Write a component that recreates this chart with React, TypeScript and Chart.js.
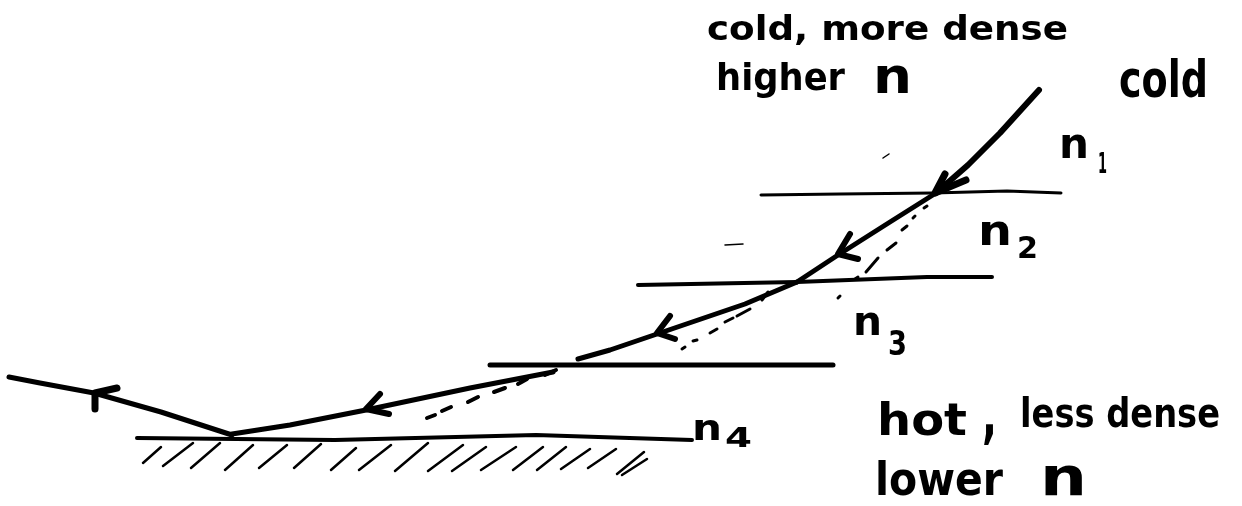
import React, { useEffect, useRef } from "react";
import { Chart, registerables } from "chart.js";

Chart.register(...registerables);

type P = [number, number];

// Thick refracted ray
const rayIncoming: P[] = [[1039, 90], [1000, 133], [968, 165], [936, 193]];
const rayLayer2: P[] = [[936, 193], [890, 222], [838, 255], [797, 282]];
const rayLayer3: P[] = [[797, 282], [745, 304], [657, 334], [610, 350], [578, 359]];
const rayLayer4: P[] = [[553, 372], [470, 388], [366, 410], [290, 425], [232, 434]];
const rayReflected: P[] = [[232, 435], [161, 412], [94, 393], [40, 383], [9, 377]];

// Boundaries between layers
const boundary1: P[] = [[761, 195], [840, 194], [933, 193], [1007, 191], [1061, 193]];
const boundary2: P[] = [[638, 285], [797, 282], [927, 277], [992, 277]];
const boundary3: P[] = [[490, 365], [660, 365], [833, 365]];
const boundary4: P[] = [[137, 438], [335, 440], [536, 435], [692, 440]];

// Arrow heads: barb, tip, barb
const arrow1: P[] = [[945, 174], [935, 193], [966, 180]];
const arrow2: P[] = [[850, 234], [838, 254], [858, 259]];
const arrow3: P[] = [[670, 316], [657, 333], [675, 339]];
const arrow4: P[] = [[380, 394], [366, 409], [389, 414]];
const arrow5: P[] = [[117, 388], [95, 393], [95, 409]];

// Dashed straight-on continuation: each pair is one dash
const dashesA: P[][] = [
  [[927, 206], [924, 208]], [[915, 216], [913, 218]], [[907, 226], [902, 230]],
  [[896, 243], [887, 250]], [[878, 258], [866, 272]], [[858, 277], [855, 279]],
  [[840, 296], [838, 298]],
];
const dashesB: P[][] = [
  [[768, 292], [762, 300]], [[750, 309], [737, 316]], [[733, 318], [725, 322]],
  [[717, 329], [710, 333]], [[697, 340], [693, 341]], [[685, 347], [682, 349]],
];
const dashesC: P[][] = [
  [[556, 370], [545, 375]], [[527, 379], [518, 384]], [[505, 388], [494, 392]],
  [[478, 397], [468, 402]], [[451, 407], [442, 411]], [[435, 415], [427, 418]],
];

// Ground hatching
const hatchBottomX = [143, 163, 191, 225, 259, 294, 331, 359, 395, 428, 452, 481, 513, 537, 561, 588, 617, 622];
const hatchTopX = [161, 193, 220, 253, 287, 321, 356, 391, 428, 463, 486, 516, 543, 566, 590, 616, 644, 647];
const hatchBottomY = [463, 466, 468, 470, 468, 468, 470, 470, 471, 471, 471, 470, 470, 470, 469, 468, 474, 475];
const hatchTopY = [447, 443, 443, 445, 445, 444, 448, 445, 443, 445, 447, 447, 447, 447, 449, 449, 452, 459];

// Stray specks on the scan
const speck1: P[] = [[725, 245], [743, 244]];
const speck2: P[] = [[883, 158], [889, 154]];

// Hand-lettered labels: text, left, baseline, width, font size
const labelTexts = ["cold, more dense", "higher", "n", "cold", "n", "1", "n", "2", "n", "3", "n", "4", "hot", ",", "less dense", "lower", "n"];
const labelX = [707, 716, 873, 1119, 1059, 1098, 978, 1017, 853, 888, 692, 725, 877, 982, 1020, 875, 1040];
const labelY = [40, 90, 93, 97, 158, 173, 245, 258, 335, 355, 440, 447, 435, 436, 427, 495, 495];
const labelW = [361, 129, 39, 89, 30, 9, 34, 21, 29, 19, 30, 27, 90, 15, 200, 128, 47];
const labelSize = [33, 38, 50, 52, 42, 29, 42, 31, 40, 34, 36, 26, 44, 62, 40, 46, 54];

const toXY = (pts: P[]) => pts.map(([x, y]) => ({ x, y }));
const joinDashes = (dashes: P[][]) =>
  dashes.flatMap((d) => [...toXY(d), { x: d[1][0], y: null as unknown as number }]);
const hatchPoints = hatchBottomX.flatMap((bx, i) => [
  { x: bx, y: hatchBottomY[i] },
  { x: hatchTopX[i], y: hatchTopY[i] },
  { x: hatchTopX[i], y: null as unknown as number },
]);

const stroke = (data: { x: number; y: number }[], borderWidth: number) => ({
  data,
  borderWidth,
  borderColor: "#000",
  backgroundColor: "#000",
  pointRadius: 0,
  tension: 0,
  spanGaps: false,
  borderCapStyle: "round" as const,
  borderJoinStyle: "round" as const,
});

const handLettering = {
  id: "handLettering",
  afterDatasetsDraw(chart: Chart) {
    const { ctx, scales } = chart;
    ctx.fillStyle = "#000";
    ctx.textAlign = "left";
    ctx.textBaseline = "alphabetic";
    labelTexts.forEach((t, i) => {
      ctx.save();
      ctx.font = `bold ${labelSize[i]}px "DejaVu Sans"`;
      const natural = ctx.measureText(t).width;
      ctx.translate(scales.x.getPixelForValue(labelX[i]), scales.y.getPixelForValue(labelY[i]));
      ctx.scale(labelW[i] / natural, 1);
      ctx.fillText(t, 0, 0);
      ctx.restore();
    });
  },
};

export default function App() {
  const ref = useRef<HTMLCanvasElement>(null);
  useEffect(() => {
    document.body.style.margin = "0";
    document.body.style.background = "#fff";
    const chart = new Chart(ref.current!, {
      type: "line",
      data: {
        datasets: [
          stroke(toXY(rayIncoming), 6),
          stroke(toXY(rayLayer2), 5),
          stroke(toXY(rayLayer3), 5),
          stroke(toXY(rayLayer4), 5),
          stroke(toXY(rayReflected), 5),
          stroke(toXY(boundary1), 3),
          stroke(toXY(boundary2), 4),
          stroke(toXY(boundary3), 5),
          stroke(toXY(boundary4), 4),
          stroke(toXY(arrow1), 7),
          stroke(toXY(arrow2), 6),
          stroke(toXY(arrow3), 6),
          stroke(toXY(arrow4), 6),
          stroke(toXY(arrow5), 7),
          stroke(joinDashes(dashesA), 3),
          stroke(joinDashes(dashesB), 3),
          stroke(joinDashes(dashesC), 4),
          stroke(hatchPoints, 2.5),
          stroke(toXY(speck1), 1.5),
          stroke(toXY(speck2), 1.5),
        ],
      },
      options: {
        animation: false,
        responsive: false,
        layout: { padding: 0 },
        plugins: { legend: { display: false }, tooltip: { enabled: false } },
        scales: {
          x: { type: "linear", min: 0, max: 1242, display: false },
          y: { type: "linear", min: 0, max: 506, reverse: true, display: false },
        },
      },
      plugins: [handLettering],
    });
    return () => chart.destroy();
  }, []);
  return <canvas ref={ref} width={1242} height={506} style={{ display: "block" }} />;
}
